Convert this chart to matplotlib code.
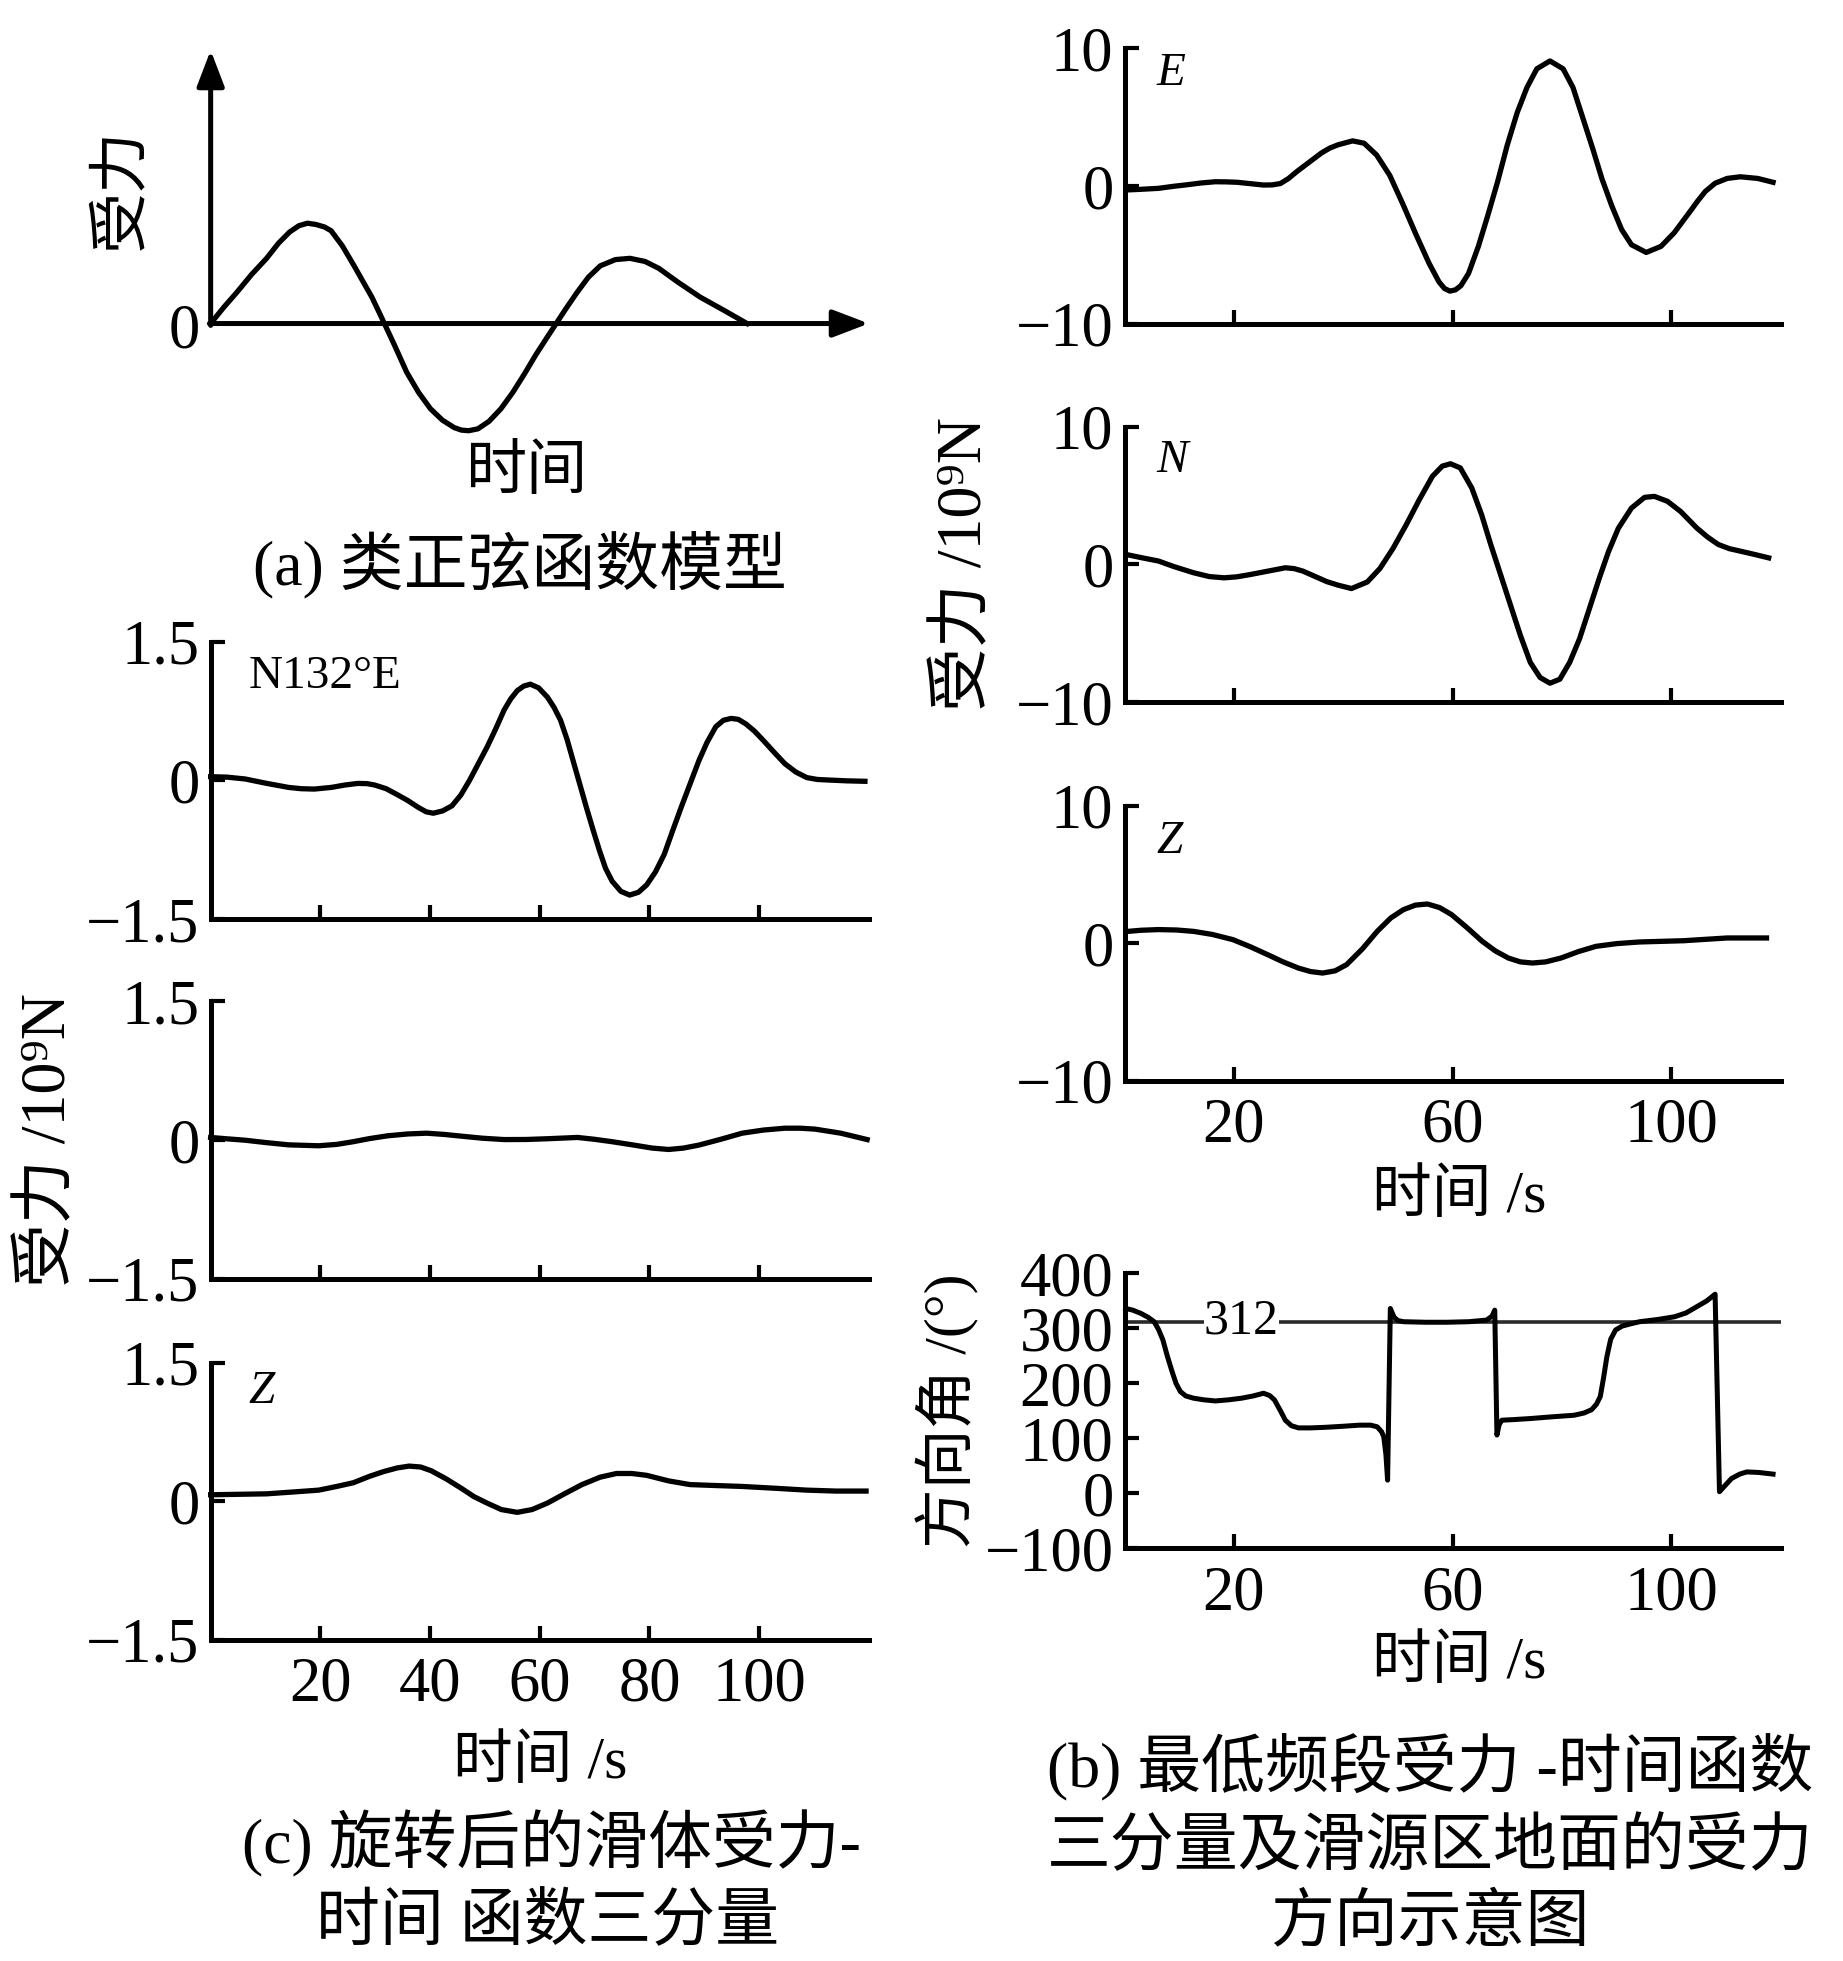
import matplotlib
matplotlib.use('Agg')
import matplotlib.pyplot as plt

plt.rcParams['font.family'] = ['Liberation Serif', 'Noto Sans CJK SC', 'DejaVu Serif']
plt.rcParams['axes.unicode_minus'] = True

# ---- (a) 类正弦函数模型 (示意, 单位任意) ----
a_t = [0, 2, 4, 6.2, 8.5, 10.3, 12, 13.4, 14.7, 16, 17.3, 18.3, 20, 21.8, 23.2, 24.5,
       25.5, 26.4, 28, 29.8, 31.6, 33.4, 35.2, 37, 38.1, 39.2, 40.6, 42.3, 44.1, 45.9,
       47.7, 49.4, 51, 52.5, 54, 55.7, 57.4, 59.2, 61.5, 63.7, 66, 68.1, 71, 74.4, 78, 81.5]
a_f = [0, 13, 25, 39, 52, 64, 73, 78, 80, 79, 77, 74, 62, 46, 33, 21,
       10, 0, -18, -39, -55, -68, -77, -83, -85, -85.5, -84, -78, -68, -55,
       -40, -25, -12, 0, 12, 25, 37, 46, 51, 52, 49.5, 44, 33, 21, 10.5, 0]

# ---- (c) 旋转后的三分量 (10^9 N) ----
c1_t = [0, 3, 6.3, 10, 14.2, 16.5, 18.9, 22, 24.5, 26.8, 28.5, 29.9, 32, 33.9, 36, 37.8,
        39.3, 40.6, 42.3, 44, 45.6, 47.2, 48.8, 50.4, 52, 53.5, 54.7, 55.9, 57.1, 58.3,
        59.8, 61.4, 62.6, 63.8, 65, 66.1, 67.3, 68.5, 69.7, 70.9, 72, 73.2, 74.8, 76.4,
        78, 79.5, 81.1, 82.7, 84.2, 85.8, 87.4, 89, 90.5, 92.1, 93.5, 94.9, 96.2, 97.6,
        99.2, 100.8, 102.8, 104.7, 106.7, 108.7, 110.6, 112.6, 116, 119.3]
c1_f = [0.04, 0.035, 0.015, -0.03, -0.076, -0.09, -0.094, -0.076, -0.05, -0.033, -0.035,
        -0.05, -0.09, -0.15, -0.22, -0.29, -0.34, -0.355, -0.33, -0.275, -0.16, 0.0, 0.18,
        0.36, 0.56, 0.76, 0.88, 0.97, 1.02, 1.04, 1.0, 0.90, 0.79, 0.65, 0.44, 0.21, -0.04,
        -0.29, -0.53, -0.76, -0.95, -1.09, -1.2, -1.24, -1.21, -1.13, -0.99, -0.80, -0.55,
        -0.29, -0.04, 0.21, 0.41, 0.58, 0.65, 0.67, 0.66, 0.61, 0.53, 0.43, 0.3, 0.18, 0.09,
        0.03, 0.01, 0.004, -0.005, -0.01]

c2_t = [0, 3, 6.3, 10, 14.2, 19.7, 23, 26, 29, 32.3, 36, 39.4, 42.5, 45.7, 49.5, 53.5,
        57.5, 61.4, 66.9, 70, 73.2, 77.2, 80.5, 83.5, 86.2, 89, 93, 96.9, 100.8, 104.7,
        107.5, 110.2, 114.9, 119.7]
c2_f = [0.03, 0.015, 0.0, -0.025, -0.05, -0.06, -0.045, -0.016, 0.018, 0.048, 0.068,
        0.076, 0.063, 0.044, 0.022, 0.007, 0.008, 0.016, 0.03, 0.01, -0.016, -0.053,
        -0.085, -0.1, -0.085, -0.053, 0.01, 0.076, 0.11, 0.13, 0.13, 0.12, 0.076, 0.007]

c3_t = [0, 5, 10.2, 15, 19.7, 23, 26, 29, 31.5, 34, 36.2, 38.3, 40.2, 43, 45.7, 48, 50.4,
        53, 55.9, 58.6, 61.4, 64.5, 67.7, 71, 74, 76.8, 79.5, 83.5, 87.4, 92, 96.9, 103,
        108.7, 114, 119.5]
c3_f = [0.07, 0.075, 0.08, 0.1, 0.12, 0.16, 0.2, 0.27, 0.32, 0.36, 0.38, 0.37, 0.33, 0.24,
        0.14, 0.05, -0.02, -0.09, -0.12, -0.09, -0.02, 0.08, 0.18, 0.26, 0.3, 0.3, 0.28,
        0.22, 0.18, 0.17, 0.16, 0.14, 0.12, 0.11, 0.11]

# ---- (b) E, N, Z 三分量 (10^9 N) ----
e_t = [0.2, 3, 6.2, 9, 11, 14, 16.6, 18.6, 20.6, 23, 25.4, 27, 28.5, 30, 31.5, 33, 34.5,
       36, 37.5, 39, 41.7, 43.8, 46.1, 48.5, 50.9, 53.3, 55.7, 57.5, 58.5, 59.5, 60.5,
       61.5, 62.9, 64.7, 66.4, 68.2, 70, 71.8, 73.6, 75.4, 77.8, 80.2, 82, 83.8, 85.6,
       87.3, 89.1, 90.9, 92.7, 95.4, 98.1, 100.5, 103.5, 104.8, 106.2, 108, 110.2, 112.6,
       115.8, 118.6]
e_f = [-0.29, -0.24, -0.17, -0.02, 0.07, 0.22, 0.31, 0.30, 0.27, 0.17, 0.07, 0.08, 0.18,
       0.55, 1.05, 1.5, 1.95, 2.4, 2.75, 2.99, 3.28, 3.11, 2.25, 0.77, -1.32, -3.53, -5.63,
       -6.97, -7.45, -7.64, -7.55, -7.25, -6.36, -4.39, -2.18, 0.28, 2.99, 5.33, 7.17, 8.52,
       9.09, 8.52, 7.17, 4.96, 2.74, 0.53, -1.44, -3.16, -4.27, -4.83, -4.39, -3.41, -1.81,
       -1.1, -0.4, 0.2, 0.55, 0.67, 0.55, 0.27]

n_t = [0.6, 3, 6.2, 9, 12.6, 15.5, 18.2, 20.5, 23, 26, 29.4, 31, 32.6, 35, 37, 39, 41.5,
       44.4, 46.7, 49.1, 51.5, 53.9, 56.3, 58.1, 59.6, 61.4, 63.5, 65.3, 67, 68.8, 70.6,
       72.4, 74.2, 76, 77.8, 79.6, 81.4, 83.2, 85, 86.8, 88.5, 90.3, 92.7, 95.1, 96.9,
       99.3, 101.7, 103.5, 104.6, 106.6, 108.6, 110.6, 112.6, 115, 117.8]
n_f = [0.7, 0.5, 0.25, -0.15, -0.6, -0.88, -0.97, -0.9, -0.73, -0.5, -0.24, -0.3, -0.48,
       -0.9, -1.25, -1.5, -1.75, -1.27, -0.29, 1.17, 2.88, 4.71, 6.41, 7.15, 7.32, 7.02,
       5.56, 3.61, 1.41, -0.78, -2.98, -5.17, -7.12, -8.22, -8.63, -8.34, -7.12, -5.41,
       -3.22, -1.02, 0.93, 2.63, 4.1, 4.88, 4.95, 4.59, 3.85, 3.12, 2.67, 2.0, 1.45, 1.15,
       0.97, 0.75, 0.48]

z_t = [0.6, 3, 6.2, 9.5, 12.6, 16, 19.8, 23, 26.2, 29, 31.8, 34, 36.2, 38.5, 40.6, 43.5,
       46.2, 48.7, 51, 53.2, 55.4, 57.6, 59.8, 62.6, 65.4, 67.8, 70.2, 72.4, 74.6, 77,
       79.8, 83, 86.2, 90, 94.2, 102.2, 110.2, 117.4]
z_f = [0.87, 0.95, 1.0, 0.97, 0.87, 0.65, 0.27, -0.25, -0.83, -1.35, -1.8, -2.05, -2.16,
       -2.0, -1.55, -0.4, 0.87, 1.85, 2.45, 2.78, 2.86, 2.6, 2.09, 1.15, 0.15, -0.55,
       -1.07, -1.35, -1.43, -1.35, -1.07, -0.6, -0.22, -0.02, 0.1, 0.19, 0.39, 0.39]

# ---- 方向角 (°) ----
az_t = [0.2, 1.5, 3, 4.3, 5.4, 6.2, 7, 7.8, 8.6, 9.4, 10.2, 11.2, 12.6, 14.5, 16.6, 19,
        21.4, 23.5, 25.4, 26.5, 27.4, 28.4, 29.4, 30.5, 31.8, 34, 36.6, 40, 43, 45, 46.2,
        47, 47.4, 47.8, 48.1, 48.6, 49.3, 50, 51, 55, 59, 63, 66.2, 67.2, 67.7, 68.1,
        68.5, 69, 71, 74.2, 78, 82.2, 84, 85.4, 86.3, 87, 87.6, 88.2, 88.9, 89.8, 91,
        92.5, 94.2, 97.5, 100.6, 102.7, 104.6, 106.5, 108, 108.8, 109.8, 111, 112.5,
        113.8, 116, 118.6]
az_v = [336, 333, 327, 320, 312, 298, 279, 250, 224, 200, 185, 177, 173, 170, 168, 170,
        173, 177, 182, 178, 170, 152, 133, 123, 119, 119, 120, 122, 124, 124, 121,
        112, 103, 70, 24, 336, 320, 314, 312, 311, 311, 312, 315, 322, 333, 106,
        125, 133, 134, 136, 139, 142, 146, 152, 162, 176, 210, 248, 280, 297, 304,
        308, 312, 316, 321, 328, 339, 350, 362, 3, 14, 27, 35,
        39, 38, 35]
az_ref = 312

c_yticks = [-1.5, 0, 1.5]
c_yticklabels = ['\u22121.5', '0', '1.5']
c_xticks = [20, 40, 60, 80, 100]
b_yticks = [-10, 0, 10]
b_yticklabels = ['\u221210', '0', '10']
b_xticks = [20, 60, 100]
az_yticks = [-100, 0, 100, 200, 300, 400]
az_yticklabels = ['\u2212100', '0', '100', '200', '300', '400']

LW = 3.8
SP = 3.6
TICK = 45
LAB = 43
YLAB = 46


def style(ax):
    for s in ['top', 'right']:
        ax.spines[s].set_visible(False)
    for s in ['left', 'bottom']:
        ax.spines[s].set_linewidth(SP)
    ax.tick_params(direction='in', length=10, width=3, labelsize=TICK)
    ax.tick_params(axis='y', pad=8)
    ax.tick_params(axis='x', pad=12)
    ax.set_xlim(0, 120)


fig = plt.figure(figsize=(18.43, 19.61), dpi=100)

# ---------- (a) ----------
ax_a = fig.add_axes([0.1143, 0.7698, 0.3571, 0.2046])
ax_a.set_xlim(0, 100)
ax_a.set_ylim(-102, 218)
ax_a.axis('off')
ax_a.plot(a_t, a_f, color='k', lw=LW, solid_joinstyle='round', zorder=3)
arrow = dict(arrowstyle='-|>,head_length=1.1,head_width=0.42', lw=SP, color='k',
             mutation_scale=20, shrinkA=0, shrinkB=0)
ax_a.annotate('', xy=(0, 218), xytext=(0, -1.5), arrowprops=arrow, annotation_clip=False)
ax_a.annotate('', xy=(100, 0), xytext=(-0.2, 0), arrowprops=arrow, annotation_clip=False)
ax_a.text(-4, -7, '0', fontsize=TICK, ha='center', va='center')
ax_a.text(-13.5, 107, '受力', fontsize=44, rotation=90, ha='center', va='center')
ax_a.text(48, -120, '时间', fontsize=44, ha='center', va='center')

# ---------- (c) ----------
c_left, c_w, c_h = 0.1143, 0.3571, 0.1415
c_bottoms = [0.5313, 0.3478, 0.1637]
c_data = [(c1_t, c1_f), (c2_t, c2_f), (c3_t, c3_f)]
c_axes = []
for i, (b, (t, f)) in enumerate(zip(c_bottoms, c_data)):
    ax = fig.add_axes([c_left, b, c_w, c_h])
    style(ax)
    ax.plot(t, f, color='k', lw=LW, solid_joinstyle='round', clip_on=False)
    ax.set_ylim(-1.5, 1.5)
    ax.set_yticks(c_yticks)
    ax.set_yticklabels(c_yticklabels)
    ax.set_xticks(c_xticks)
    if i < 2:
        ax.set_xticklabels([])
    c_axes.append(ax)

c_axes[0].text(0.057, 0.874, 'N132°E', transform=c_axes[0].transAxes, fontsize=34,
               ha='left', va='center')
c_axes[2].text(0.057, 0.894, 'Z', transform=c_axes[2].transAxes, fontsize=34,
               style='italic', ha='left', va='center')
c_axes[1].set_ylabel('受力 /10\u2079N', fontsize=YLAB, va='center')
c_axes[1].yaxis.set_label_coords(-0.244, 0.5)
c_axes[2].set_xlabel('时间 /s', fontsize=LAB, va='center')
c_axes[2].xaxis.set_label_coords(0.5, -0.445)

# ---------- (b) ----------
b_left, b_w, b_h = 0.6102, 0.356, 0.1403
b_bottoms = [0.8350, 0.6420, 0.4488]
b_data = [(e_t, e_f), (n_t, n_f), (z_t, z_f)]
b_names = ['E', 'N', 'Z']
b_name_y = [0.908, 0.877, 0.868]
b_axes = []
for i, (b, (t, f)) in enumerate(zip(b_bottoms, b_data)):
    ax = fig.add_axes([b_left, b, b_w, b_h])
    style(ax)
    ax.plot(t, f, color='k', lw=LW, solid_joinstyle='round', clip_on=False)
    ax.set_ylim(-10, 10)
    ax.set_yticks(b_yticks)
    ax.set_yticklabels(b_yticklabels)
    ax.set_xticks(b_xticks)
    if i < 2:
        ax.set_xticklabels([])
    ax.text(0.048, b_name_y[i], b_names[i], transform=ax.transAxes, fontsize=34,
            style='italic', ha='left', va='center')
    b_axes.append(ax)

b_axes[1].set_ylabel('受力 /10\u2079N', fontsize=YLAB, va='center')
b_axes[1].yaxis.set_label_coords(-0.243, 0.5)
b_axes[2].set_xlabel('时间 /s', fontsize=LAB, va='center')
b_axes[2].xaxis.set_label_coords(0.51, -0.425)

ax_az = fig.add_axes([b_left, 0.2104, b_w, b_h])
style(ax_az)
ax_az.axhline(az_ref, color='#2a2a2a', lw=2.6, zorder=1)
ax_az.plot(az_t, az_v, color='k', lw=LW * 0.95, solid_joinstyle='round', zorder=3,
           clip_on=False)
ax_az.set_ylim(-100, 400)
ax_az.set_yticks(az_yticks)
ax_az.set_yticklabels(az_yticklabels)
ax_az.set_xticks(b_xticks)
ax_az.text(21.3, az_ref, str(az_ref), fontsize=36, ha='center', va='center', zorder=4,
           bbox=dict(facecolor='white', edgecolor='none', pad=0))
ax_az.set_ylabel('方向角 /(°)', fontsize=LAB, va='center')
ax_az.yaxis.set_label_coords(-0.27, 0.5)
ax_az.set_xlabel('时间 /s', fontsize=LAB, va='center')
ax_az.xaxis.set_label_coords(0.51, -0.42)

# ---------- captions ----------
fig.text(0.282, 0.712, '(a) 类正弦函数模型', fontsize=46, ha='center', va='center')
fig.text(0.299, 0.060, '(c) 旋转后的滑体受力-', fontsize=46, ha='center', va='center')
fig.text(0.297, 0.0185, '时间 函数三分量', fontsize=46, ha='center', va='center')
fig.text(0.776, 0.0985, '(b) 最低频段受力 -时间函数', fontsize=46, ha='center', va='center')
fig.text(0.776, 0.0569, '三分量及滑源区地面的受力', fontsize=46, ha='center', va='center')
fig.text(0.776, 0.0185, '方向示意图', fontsize=46, ha='center', va='center')

fig.savefig('out.png', dpi=100, facecolor='white')
